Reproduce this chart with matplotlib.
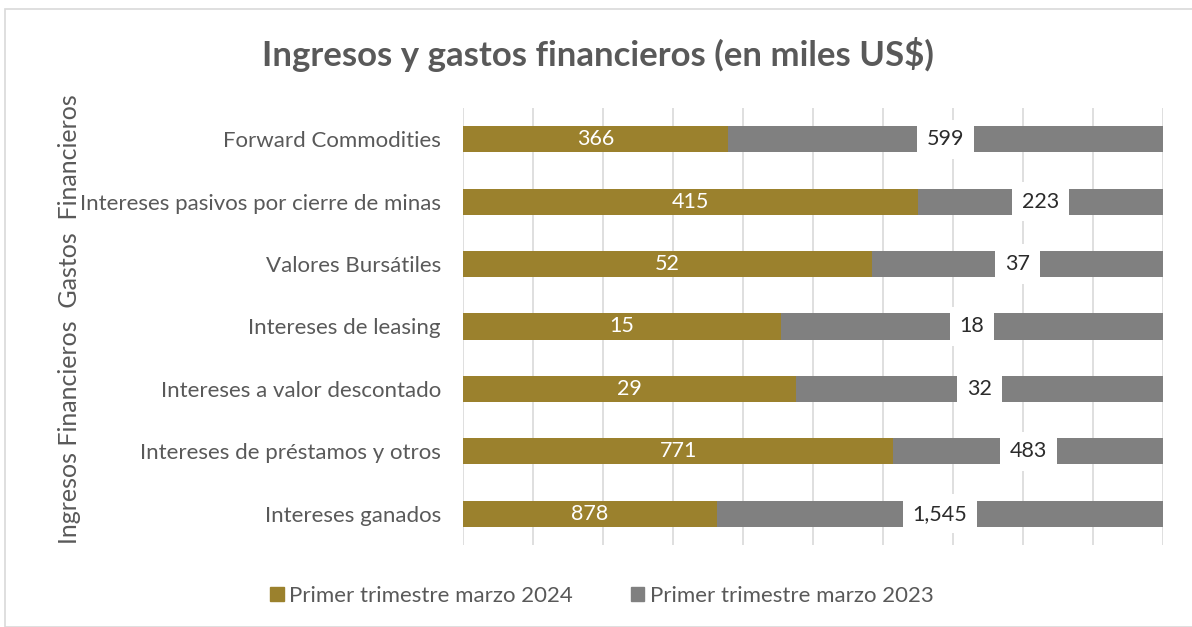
import numpy as np
import matplotlib.pyplot as plt
from matplotlib.patches import Rectangle

# categories, bottom to top as drawn
categories = ['Intereses ganados',
              'Intereses de préstamos y otros',
              'Intereses a valor descontado',
              'Intereses de leasing',
              'Valores Bursátiles',
              'Intereses pasivos por cierre de minas',
              'Forward Commodities']
q1_2024 = np.array([878, 771, 29, 15, 52, 415, 366])
q1_2023 = np.array([1545, 483, 32, 18, 37, 223, 599])
labels_2024 = ['878', '771', '29', '15', '52', '415', '366']
labels_2023 = ['1,545', '483', '32', '18', '37', '223', '599']
series_names = ['Primer trimestre marzo 2024', 'Primer trimestre marzo 2023']
group_label = 'Ingresos Financieros  Gastos  Financieros'

gold = '#9B812D'
grey = '#808080'
txt = '#595959'

plt.rcParams['font.family'] = ['Lato', 'DejaVu Sans']

W, H = 1192, 627
fig = plt.figure(figsize=(W / 100, H / 100), dpi=100)
fig.patch.set_facecolor('white')
fig.add_artist(Rectangle((5 / W, 0), 1.0, 1 - 9 / H, transform=fig.transFigure,
                         fill=False, edgecolor='#d9d9d9', lw=1.2))

ax = fig.add_axes([463 / W, 1 - 545 / H, 700 / W, 437 / H])

total = q1_2024 + q1_2023
p24 = q1_2024 / total
p23 = q1_2023 / total
y = np.arange(len(categories))

ax.barh(y, p24, height=0.42, color=gold, zorder=3)
ax.barh(y, p23, left=p24, height=0.42, color=grey, zorder=3)

for i in range(len(categories)):
    ax.text(p24[i] / 2, y[i], labels_2024[i], ha='center', va='center',
            color='white', fontsize=15.5, zorder=5)
    ax.text(p24[i] + p23[i] / 2, y[i], labels_2023[i], ha='center', va='center',
            color='#2b2b2b', fontsize=15.5, zorder=5,
            bbox=dict(boxstyle='square,pad=0.45', fc='white', ec='none'))

ax.set_xlim(0, 1)
ax.set_ylim(-0.5, len(categories) - 0.5)
ax.set_xticks(np.linspace(0, 1, 11))
ax.set_xticklabels([])
ax.grid(axis='x', color='#d9d9d9', lw=1.2, zorder=0)
ax.tick_params(axis='x', length=0)
ax.set_yticks(y)
ax.set_yticklabels(categories, fontsize=16, color=txt)
ax.tick_params(axis='y', length=0, pad=16)
for s in ax.spines.values():
    s.set_visible(False)

fig.text(598 / W, 1 - 55 / H, 'Ingresos y gastos financieros (en miles US$)',
         ha='center', va='center', fontsize=25, fontweight='bold', color=txt)
fig.text(70 / W, 1 - 319 / H, group_label, rotation=90, ha='center', va='center',
         fontsize=18, color=txt)

handles = [Rectangle((0, 0), 1, 1, color=gold), Rectangle((0, 0), 1, 1, color=grey)]
fig.legend(handles, series_names, loc='center', bbox_to_anchor=(602 / W, 1 - 596 / H),
           ncol=2, frameon=False, fontsize=16, labelcolor=txt,
           handlelength=0.6, handleheight=0.6, handletextpad=0.25, columnspacing=2.6)

fig.savefig('out.png', dpi=100)
